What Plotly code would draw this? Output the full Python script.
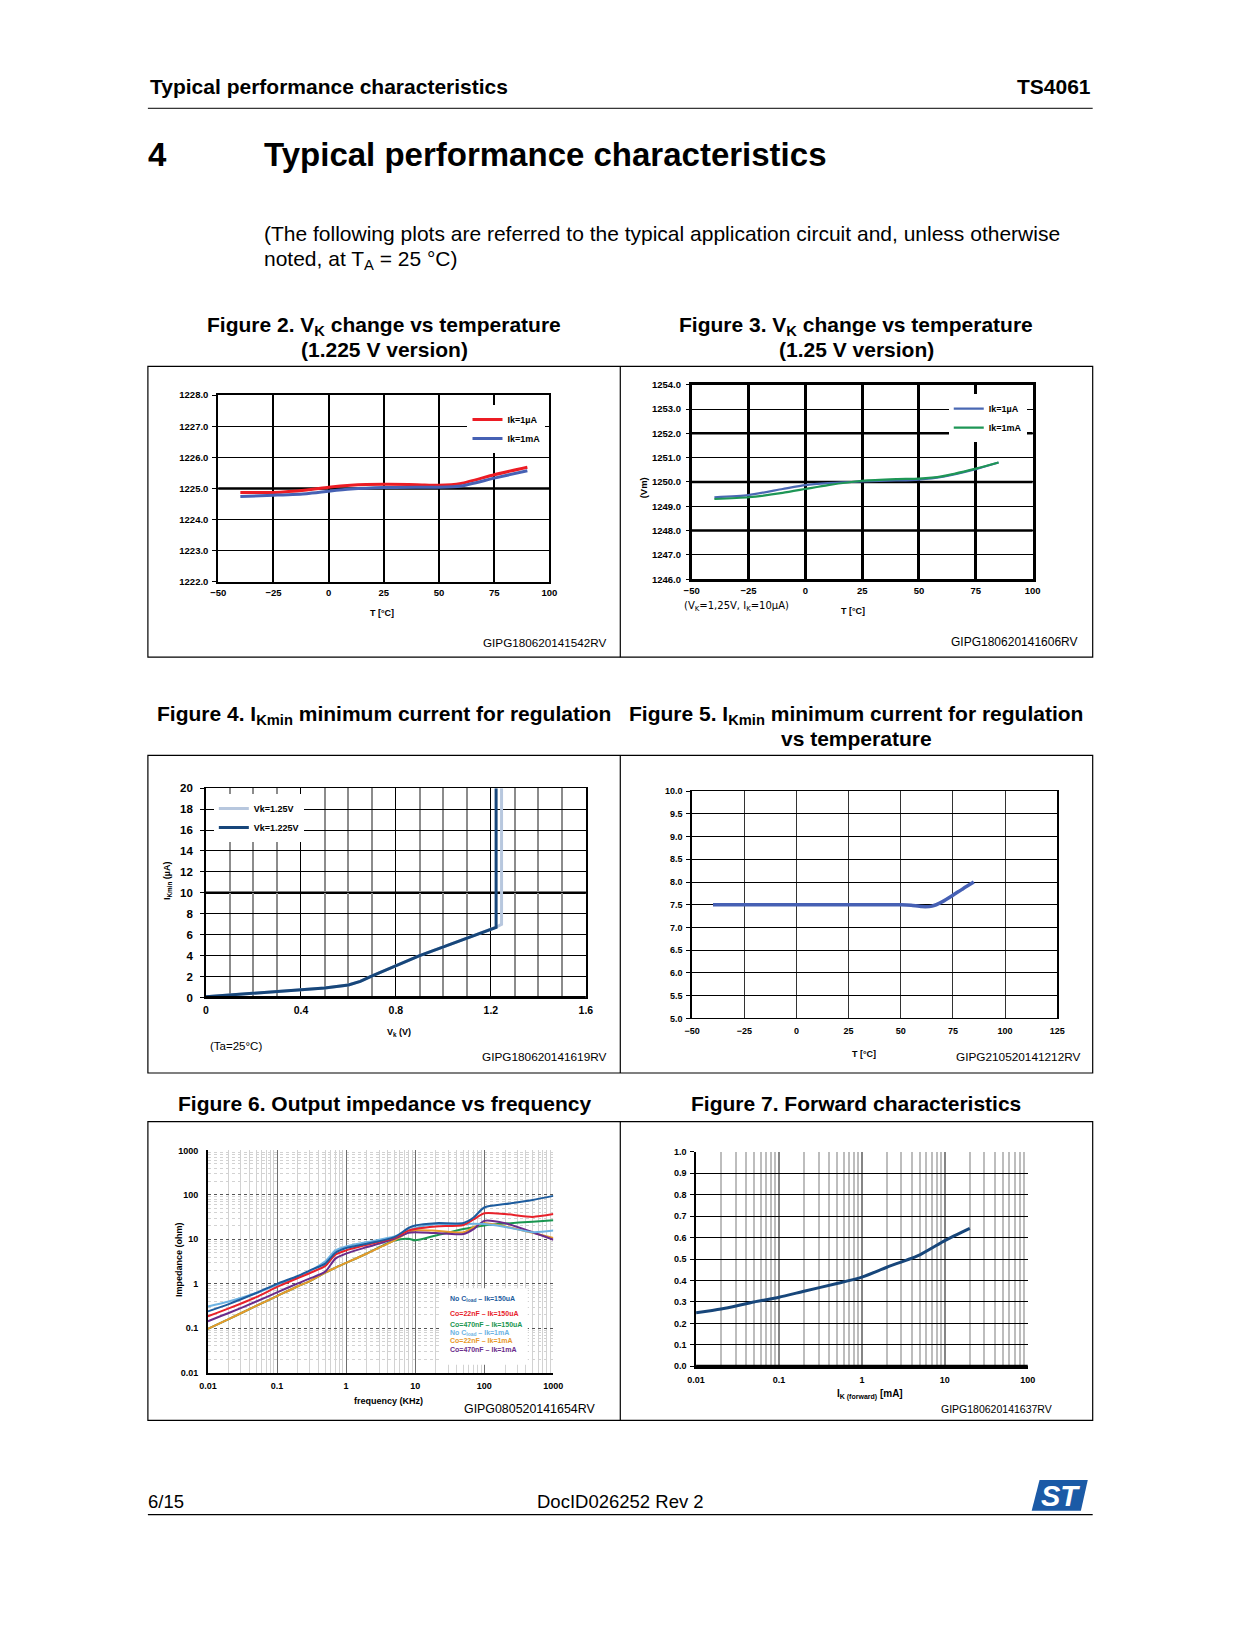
import plotly.graph_objects as go

PAD = 8                    # default body margin of the html page
FW, FH = 1200, 1600        # figure kept inside the 1242x1650 window (no scrollbars)
FONT = "Liberation Sans, Arial, Helvetica, sans-serif"

# ---------------- data ----------------
# Figure 2 : VK vs temperature (1.225 V version)
fig2_temp = [-40, -25, -10, 0, 10, 25, 40, 50, 60, 75, 90]
fig2_vk_1uA = [1224.87, 1224.87, 1224.95, 1225.04, 1225.10, 1225.13, 1225.12, 1225.10, 1225.16, 1225.44, 1225.68]
fig2_vk_1mA = [1224.74, 1224.78, 1224.83, 1224.91, 1224.98, 1225.03, 1225.04, 1225.04, 1225.08, 1225.33, 1225.57]

# Figure 3 : VK vs temperature (1.25 V version)
fig3_temp = [-40, -25, -10, 0, 10, 25, 40, 50, 60, 75, 85]
fig3_vk_1uA = [1249.37, 1249.46, 1249.71, 1249.87, 1249.95, 1250.02, 1250.06, 1250.10, 1250.21, 1250.53, 1250.80]
fig3_vk_1mA = [1249.30, 1249.37, 1249.55, 1249.71, 1249.87, 1250.05, 1250.12, 1250.14, 1250.23, 1250.55, 1250.80]

# Figure 4 : IKmin vs VK
fig4_vk_125 = [0, 0.1, 0.2, 0.3, 0.4, 0.5, 0.6, 0.65, 0.7, 0.8, 0.9, 1.0, 1.1, 1.2, 1.222, 1.245, 1.245]
fig4_ik_125 = [0.08, 0.25, 0.41, 0.58, 0.73, 0.92, 1.2, 1.55, 2.08, 3.03, 4.0, 4.85, 5.7, 6.5, 6.72, 7.0, 20]
fig4_vk_1225 = [0, 0.1, 0.2, 0.3, 0.4, 0.5, 0.6, 0.65, 0.7, 0.8, 0.9, 1.0, 1.1, 1.2, 1.222, 1.222]
fig4_ik_1225 = [0.08, 0.25, 0.41, 0.58, 0.73, 0.92, 1.2, 1.55, 2.08, 3.03, 4.0, 4.85, 5.7, 6.5, 6.7, 20]

# Figure 5 : IKmin vs temperature
fig5_temp = [-40, -25, 0, 25, 50, 55, 60, 65, 70, 75, 80, 85]
fig5_ikmin = [7.5, 7.5, 7.5, 7.5, 7.5, 7.49, 7.46, 7.47, 7.57, 7.71, 7.86, 8.0]

# Figure 6 : output impedance vs frequency
fig6_freq = [0.01, 0.02, 0.05, 0.1, 0.2, 0.3, 0.5, 0.7, 1, 2, 5, 8, 10, 20, 50, 70, 100, 200, 500, 1000]
fig6_nocl_150u = [0.24, 0.35, 0.62, 1.0, 1.5, 2.0, 2.85, 5.0, 6.37, 7.96, 11.2, 18, 20.5, 23.1, 23.4, 31, 52, 62, 77, 95]
fig6_22n_150u = [0.186, 0.28, 0.5, 0.85, 1.35, 1.75, 2.53, 4.53, 5.65, 7.55, 10.8, 15.7, 17.1, 19.5, 21, 28, 38.5, 37, 32, 37]
fig6_470n_150u = [0.097, 0.16, 0.32, 0.53, 0.88, 1.15, 1.78, 2.3, 2.95, 4.8, 9.44, 10.3, 9.5, 12.2, 17, 18.7, 20.5, 22.6, 25, 27]
fig6_nocl_1m = [0.31, 0.40, 0.62, 0.95, 1.45, 1.95, 3.2, 5.65, 6.94, 8.67, 11.6, 15.7, 18, 22, 22, 22.5, 22, 19, 14.5, 15.8]
fig6_22n_1m = [0.097, 0.16, 0.32, 0.53, 0.88, 1.15, 1.78, 2.3, 2.95, 4.8, 9.44, 14.5, 16, 15.6, 14.4, 18.7, 23, 19.5, 14, 10.8]
fig6_470n_1m = [0.144, 0.22, 0.4, 0.64, 1.02, 1.32, 1.88, 3.69, 4.77, 6.7, 10.3, 14, 14.5, 13.8, 13.2, 17, 26, 23, 14.4, 9.8]
fig6_names = ["No C<sub>load</sub> – Ik=150uA", "Co=22nF – Ik=150uA", "Co=470nF – Ik=150uA",
              "No C<sub>load</sub> – Ik=1mA", "Co=22nF – Ik=1mA", "Co=470nF – Ik=1mA"]
fig6_tick_vals = [0.01, 0.1, 1, 10, 100, 1000]
fig6_tick_text = ["0.01", "0.1", "1", "10", "100", "1000"]

# Figure 7 : forward characteristics
fig7_ik = [0.01, 0.02, 0.05, 0.1, 0.2, 0.5, 1, 2, 5, 10, 20]
fig7_vf = [0.25, 0.267, 0.30, 0.322, 0.35, 0.386, 0.416, 0.462, 0.52, 0.586, 0.643]
fig7_tick_vals = [0.01, 0.1, 1, 10, 100]
fig7_tick_text = ["0.01", "0.1", "1", "10", "100"]

# ---------------- helpers (page pixel -> paper fraction) ----------------
def X(p):
    return (p - PAD) / FW

def Y(p):
    return 1 - (p - PAD) / FH

def tfont(size):
    return dict(family=FONT, size=size, color="black", weight="bold")

annotations = []
shapes = []

def txt(text, x, y, size, xanchor="center", bold=False, color="black",
        family=FONT, angle=0, yanchor="middle"):
    annotations.append(dict(text=text, x=X(x), y=Y(y), xref="paper", yref="paper",
                            xanchor=xanchor, yanchor=yanchor, showarrow=False,
                            textangle=angle,
                            font=dict(family=family, size=size, color=color,
                                      weight="bold" if bold else "normal")))

def hline(y, x0, x1, width=1, color="black"):
    shapes.append(dict(type="line", xref="paper", yref="paper", x0=X(x0), x1=X(x1),
                       y0=Y(y), y1=Y(y), line=dict(color=color, width=width)))

def vline(x, y0, y1, width=1, color="black"):
    shapes.append(dict(type="line", xref="paper", yref="paper", x0=X(x), x1=X(x),
                       y0=Y(y0), y1=Y(y1), line=dict(color=color, width=width)))

def rect(x0, y0, x1, y1, width=1, fill=None, color="black"):
    shapes.append(dict(type="rect", xref="paper", yref="paper", x0=X(x0), x1=X(x1),
                       y0=Y(y1), y1=Y(y0), line=dict(color=color, width=width),
                       fillcolor=fill if fill else "rgba(0,0,0,0)",
                       layer="above" if fill else "below"))

fig = go.Figure()

# ---------------- traces ----------------
fig.add_trace(go.Scatter(x=fig2_temp, y=fig2_vk_1uA, xaxis="x", yaxis="y", mode="lines",
                         line=dict(color="#ec1c24", width=3, shape="spline", smoothing=0.6),
                         name="Ik=1µA", legend="legend"))
fig.add_trace(go.Scatter(x=fig2_temp, y=fig2_vk_1mA, xaxis="x", yaxis="y", mode="lines",
                         line=dict(color="#4661b4", width=3, shape="spline", smoothing=0.6),
                         name="Ik=1mA", legend="legend"))

fig.add_trace(go.Scatter(x=fig3_temp, y=fig3_vk_1uA, xaxis="x2", yaxis="y2", mode="lines",
                         line=dict(color="#4a68b3", width=2.2, shape="spline", smoothing=0.6),
                         name="Ik=1µA", legend="legend2"))
fig.add_trace(go.Scatter(x=fig3_temp, y=fig3_vk_1mA, xaxis="x2", yaxis="y2", mode="lines",
                         line=dict(color="#1e9656", width=2.2, shape="spline", smoothing=0.6),
                         name="Ik=1mA", legend="legend2"))

fig.add_trace(go.Scatter(x=fig4_vk_125, y=fig4_ik_125, xaxis="x3", yaxis="y3", mode="lines",
                         line=dict(color="#b7c7de", width=3), name="Vk=1.25V", legend="legend3"))
fig.add_trace(go.Scatter(x=fig4_vk_1225, y=fig4_ik_1225, xaxis="x3", yaxis="y3", mode="lines",
                         line=dict(color="#17467a", width=3), name="Vk=1.225V", legend="legend3"))

fig.add_trace(go.Scatter(x=fig5_temp, y=fig5_ikmin, xaxis="x4", yaxis="y4", mode="lines",
                         line=dict(color="#4660b4", width=3.5, shape="spline", smoothing=0.5),
                         showlegend=False))

fig6_series = [fig6_nocl_150u, fig6_22n_150u, fig6_470n_150u, fig6_nocl_1m, fig6_22n_1m, fig6_470n_1m]
fig6_colors = ["#1d5c9e", "#e8222b", "#1a9650", "#6db3e3", "#e8992b", "#6a2c8b"]
for idx in [2, 4, 5, 3, 1, 0]:
    fig.add_trace(go.Scatter(x=fig6_freq, y=fig6_series[idx], xaxis="x5", yaxis="y5", mode="lines",
                             line=dict(color=fig6_colors[idx], width=2, shape="spline", smoothing=0.7),
                             name=fig6_names[idx], showlegend=False))

fig.add_trace(go.Scatter(x=fig7_ik, y=fig7_vf, xaxis="x6", yaxis="y6", mode="lines",
                         line=dict(color="#17467a", width=3, shape="spline", smoothing=0.6),
                         showlegend=False))

# ---------------- axes ----------------
def ax(domain, anchor, **kw):
    d = dict(domain=domain, anchor=anchor, showgrid=True, zeroline=False, fixedrange=True,
             tickfont=tfont(9.5), ticks="", showline=False)
    d.update(kw)
    return d

layout_axes = dict(
    # Figure 2
    xaxis=ax([X(212.5), X(549)], "y", range=[-50, 100], dtick=25, tick0=-50,
             gridcolor="black", gridwidth=2, showline=True, linecolor="black", linewidth=2,
             mirror=True, ticklabelstandoff=1),
    yaxis=ax([Y(580), Y(392)], "x", range=[1222, 1228], dtick=1, tickformat=".1f",
             gridcolor="black", gridwidth=1, showline=True, linecolor="black", linewidth=2,
             mirror=True, ticks="outside", ticklen=4, tickcolor="black", ticklabelstandoff=2),
    # Figure 3
    xaxis2=ax([X(693.5), X(1040)], "y2", range=[-50, 100], dtick=25, tick0=-50,
              gridcolor="black", gridwidth=2.5, showline=True, linecolor="black", linewidth=2.5,
              mirror=True, ticklabelstandoff=1),
    yaxis2=ax([Y(577.5), Y(381.5)], "x2", range=[1246, 1254], dtick=1, tickformat=".1f",
              gridcolor="black", gridwidth=1, showline=True, linecolor="black", linewidth=2.5,
              mirror=True, ticks="outside", ticklen=3, tickcolor="black", ticklabelstandoff=3),
    # Figure 4
    xaxis3=ax([X(200), X(586)], "y3", range=[0, 1.6], dtick=0.4, tick0=0,
              gridcolor="black", gridwidth=1.3, showline=True, linecolor="black", linewidth=1.3,
              mirror=True, tickfont=tfont(10.5), ticklabelstandoff=3,
              minor=dict(dtick=0.1, showgrid=True, gridcolor="#8c8c8c", gridwidth=1.5)),
    yaxis3=ax([Y(999), Y(788)], "x3", range=[0, 20], dtick=2, tick0=0,
              gridcolor="black", gridwidth=1.3, showline=True, linecolor="black", linewidth=1.5,
              mirror=True, tickfont=tfont(11.5), ticks="outside", ticklen=4, tickcolor="black",
              ticklabelstandoff=5),
    # Figure 5
    xaxis4=ax([X(694), X(1065)], "y4", range=[-50, 125], dtick=25, tick0=-50,
              gridcolor="#333333", gridwidth=1, showline=True, linecolor="black", linewidth=1.3,
              mirror=True, tickfont=tfont(9), ticklabelstandoff=4),
    yaxis4=ax([Y(1020), Y(791)], "x4", range=[5, 10], dtick=0.5, tick0=5, tickformat=".1f",
              gridcolor="black", gridwidth=1, showline=True, linecolor="black", linewidth=1.8,
              mirror=True, tickfont=tfont(9), ticks="outside", ticklen=4, tickcolor="black",
              ticklabelstandoff=2),
    # Figure 6
    xaxis5=ax([X(202), X(553)], "y5", type="log", range=[-2, 3],
              tickvals=fig6_tick_vals, ticktext=fig6_tick_text,
              gridcolor="#6e6e6e", gridwidth=1.3, showline=True, linecolor="black", linewidth=1.5,
              tickfont=tfont(9), ticklabelstandoff=4,
              minor=dict(dtick="D1", showgrid=True, gridcolor="#d2d2d2", gridwidth=1)),
    yaxis5=ax([Y(1377), Y(1153)], "x5", type="log", range=[-2, 3],
              tickvals=fig6_tick_vals, ticktext=fig6_tick_text,
              gridcolor="#555555", gridwidth=1.3, griddash="dot", showline=True, linecolor="black",
              linewidth=1.5, tickfont=tfont(9), ticklabelstandoff=6,
              minor=dict(dtick="D1", showgrid=True, gridcolor="#d2d2d2", gridwidth=1)),
    # Figure 7
    xaxis6=ax([X(698), X(1035)], "y6", type="log", range=[-2, 2],
              tickvals=fig7_tick_vals, ticktext=fig7_tick_text,
              gridcolor="#858585", gridwidth=2, showline=True, linecolor="black", linewidth=2.5,
              tickfont=tfont(9), ticklabelstandoff=3,
              minor=dict(dtick="D1", showgrid=True, gridcolor="#bdbdbd", gridwidth=1.6)),
    yaxis6=ax([Y(1370.5), Y(1154.5)], "x6", range=[0, 1], dtick=0.1, tick0=0, tickformat=".1f",
              gridcolor="black", gridwidth=1.3, showline=True, linecolor="black", linewidth=1.5,
              tickfont=tfont(9), ticks="outside", ticklen=4, tickcolor="black", ticklabelstandoff=2),
)

# emphasised grid lines (styling)
shapes.append(dict(type="line", xref="x domain", yref="y", x0=0, x1=1, y0=1225, y1=1225,
                   line=dict(color="black", width=2.5), layer="below"))
for v in range(1248, 1254, 2):
    shapes.append(dict(type="line", xref="x2 domain", yref="y2", x0=0, x1=1, y0=v, y1=v,
                       line=dict(color="black", width=2.5), layer="below"))
shapes.append(dict(type="line", xref="x3 domain", yref="y3", x0=0, x1=1, y0=10, y1=10,
                   line=dict(color="black", width=2.5), layer="below"))
shapes.append(dict(type="line", xref="x3 domain", yref="y3 domain", x0=0, x1=1, y0=0, y1=0,
                   line=dict(color="black", width=3), layer="above"))
shapes.append(dict(type="line", xref="x6 domain", yref="y6 domain", x0=0, x1=1, y0=0, y1=0,
                   line=dict(color="black", width=3), layer="above"))

# ---------------- page furniture ----------------
txt("<b>Typical performance characteristics</b>", 141, 81, 21, xanchor="left")
txt("<b>TS4061</b>", 1101, 81, 21, xanchor="right")
hline(103, 141, 1101, 1)
txt("<b>4</b>", 139, 150, 33, xanchor="left")
txt("<b>Typical performance characteristics</b>", 257, 150, 33, xanchor="left")
txt("(The following plots are referred to the typical application circuit and, unless otherwise",
    257, 229, 21, xanchor="left")
txt("noted, at T<sub>A</sub> = 25 °C)", 257, 256, 21, xanchor="left")

# figure titles
txt("<b>Figure 2. V<sub>K</sub> change vs temperature</b>", 381, 322, 21)
txt("<b>(1.225 V version)</b>", 381, 346, 21)
txt("<b>Figure 3. V<sub>K</sub> change vs temperature</b>", 861, 322, 21)
txt("<b>(1.25 V version)</b>", 861, 346, 21)
txt("<b>Figure 4. I<sub>Kmin</sub> minimum current for regulation</b>", 381, 714, 21)
txt("<b>Figure 5. I<sub>Kmin</sub> minimum current for regulation</b>", 861, 714, 21)
txt("<b>vs temperature</b>", 861, 738, 21)
txt("<b>Figure 6. Output impedance vs frequency</b>", 381, 1106, 21)
txt("<b>Figure 7. Forward characteristics</b>", 861, 1106, 21)

# frames
for (t, b) in [(363, 656), (755, 1075), (1124, 1425)]:
    rect(141, t, 1101, b, 1.2)
    vline(621, t, b, 1.2)

# chart texts
txt("<b>T [°C]</b>", 379, 612, 9)
txt("GIPG180620141542RV", 609, 641, 11.7, xanchor="right")

txt("<b>(Vm)</b>", 645, 485, 9.5, angle=-90)
txt("(V<sub>K</sub>=1,25V, I<sub>K</sub>=10µA)", 739, 605, 10, family="DejaVu Sans, Verdana, sans-serif")
txt("<b>T [°C]</b>", 857, 610, 9)
txt("GIPG180620141606RV", 1088, 641, 12, xanchor="right")

txt("<b>I<sub>Kmin</sub> (µA)</b>", 161, 882, 9, angle=-90)
txt("<b>V<sub>k</sub> (V)</b>", 396, 1034, 9)
txt("(Ta=25°C)", 231, 1048, 11.5)
txt("GIPG180620141619RV", 610, 1059, 11.8, xanchor="right")

txt("<b>T [°C]</b>", 869, 1056, 9)
txt("GIPG210520141212RV", 1091, 1059, 11.8, xanchor="right")

txt("<b>Impedance (ohm)</b>", 172, 1263, 9, angle=-90)
txt("<b>frequency (KHz)</b>", 385, 1405, 9)
txt("GIPG080520141654RV", 597, 1414, 12.4, xanchor="right")

txt("<b>I<sub>K (forward)</sub> [mA]</b>", 875, 1399, 10)
txt("GIPG180620141637RV", 1062, 1414, 10.5, xanchor="right")

# figure 6 legend (coloured labels in a white box)
rect(437, 1292, 527, 1369, 0, fill="white", color="white")
for name, color, yy in zip(fig6_names, fig6_colors, [1303, 1317, 1328, 1337, 1345, 1354]):
    txt("<b>" + name + "</b>", 446, yy, 7, xanchor="left", color=color)

# footer
txt("6/15", 139, 1507, 18.5, xanchor="left")
txt("DocID026252 Rev 2", 621, 1507, 18.5)
hline(1520, 141, 1101, 1.2)

# ST logo
shapes.append(dict(type="path", xref="paper", yref="paper",
                   path="M %f,%f L %f,%f L %f,%f L %f,%f Z" % (X(1047), Y(1485), X(1096), Y(1485),
                                                              X(1089), Y(1516), X(1039), Y(1516)),
                   fillcolor="#1b5aa6", line=dict(width=0), layer="below"))
txt("<b><i>ST</i></b>", 1068, 1501, 29, color="white")

legend_font = dict(family=FONT, size=9, color="black", weight="bold")
fig.update_layout(
    width=FW, height=FH, margin=dict(l=0, r=0, t=0, b=0),
    paper_bgcolor="white", plot_bgcolor="white",
    font=dict(family=FONT, color="black"),
    annotations=annotations, shapes=shapes,
    legend=dict(x=X(545), y=Y(402), xanchor="right", yanchor="top", bgcolor="white",
                font=legend_font, tracegroupgap=0, itemwidth=30, borderwidth=0),
    legend2=dict(x=X(1034), y=Y(391), xanchor="right", yanchor="top", bgcolor="white",
                 font=legend_font, tracegroupgap=0, itemwidth=30, borderwidth=0),
    legend3=dict(x=X(208), y=Y(794), xanchor="left", yanchor="top", bgcolor="white",
                 font=legend_font, tracegroupgap=0, itemwidth=30, borderwidth=0),
    **layout_axes,
)

fig.write_html("out.html", config={"displayModeBar": False})
